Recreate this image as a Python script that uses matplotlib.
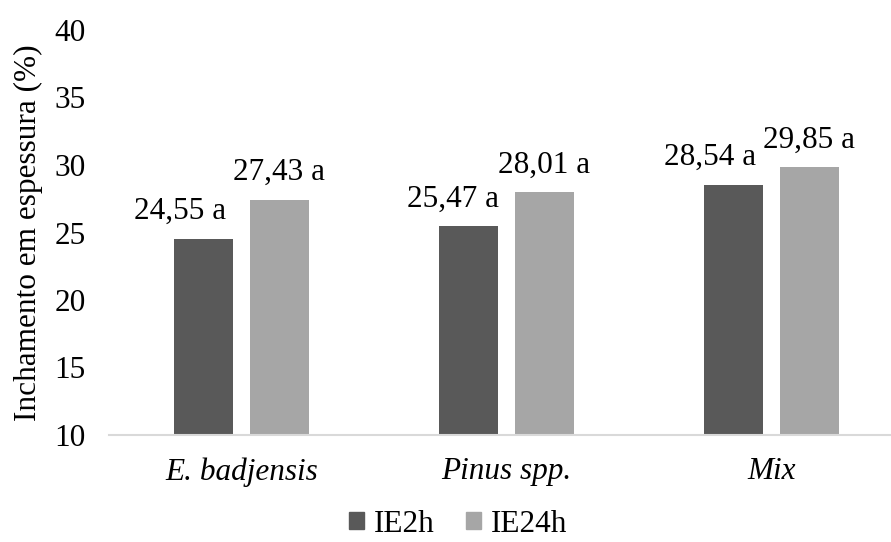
import numpy as np
import matplotlib.pyplot as plt
from matplotlib.patches import Patch

# Dados
categorias = ["E. badjensis", "Pinus spp.", "Mix"]
ie2h = [24.55, 25.47, 28.54]
ie24h = [27.43, 28.01, 29.85]
letras2h = ["a", "a", "a"]
letras24h = ["a", "a", "a"]
yticks = [10, 15, 20, 25, 30, 35, 40]

cor_escura = "#595959"
cor_clara = "#a6a6a6"

plt.rcParams['font.family'] = ['Liberation Serif', 'DejaVu Serif']
fs = 22.5

fig = plt.figure(figsize=(8.91, 5.42), dpi=100)
# o eixo continua um pouco além da borda direita da figura
ax = fig.add_axes([109 / 891, 1 - 435 / 542, 795 / 891, 405 / 542])

x = np.arange(len(categorias))
w = 0.223
off = 0.143
b1 = ax.bar(x - off, ie2h, w, color=cor_escura, bottom=0)
b2 = ax.bar(x + off, ie24h, w, color=cor_clara, bottom=0)

# rótulos das barras (os da série IE2h estão deslocados para a esquerda)
desloc = [-17, -11, -17]
for i, r in enumerate(b1):
    ax.annotate(f"{ie2h[i]:.2f}".replace(".", ",") + " " + letras2h[i],
                (r.get_x() + r.get_width() / 2, r.get_height()),
                xytext=(desloc[i], 14), textcoords="offset points",
                ha="center", va="baseline", fontsize=fs)
for i, r in enumerate(b2):
    ax.annotate(f"{ie24h[i]:.2f}".replace(".", ",") + " " + letras24h[i],
                (r.get_x() + r.get_width() / 2, r.get_height()),
                xytext=(0, 14), textcoords="offset points",
                ha="center", va="baseline", fontsize=fs)

ax.set_ylim(10, 40)
ax.set_xlim(-0.5, 2.5)
ax.set_yticks(yticks)
ax.set_xticks(x)
ax.set_xticklabels(categorias, fontstyle="italic")
ax.tick_params(axis="both", length=0, labelsize=fs)
ax.tick_params(axis="y", pad=17)
ax.tick_params(axis="x", pad=16)
for s in ["top", "right", "left"]:
    ax.spines[s].set_visible(False)
ax.spines["bottom"].set_color("#d9d9d9")
ax.spines["bottom"].set_linewidth(1.5)
ax.set_ylabel("Inchamento em espessura (%)", fontsize=fs, labelpad=8)

handles = [Patch(color=cor_escura, label="IE2h"), Patch(color=cor_clara, label="IE24h")]
fig.legend(handles=handles, loc="center", bbox_to_anchor=(458 / 891, 1 - 524 / 542),
           ncol=2, frameon=False, fontsize=fs, handlelength=0.5, handleheight=0.5,
           handletextpad=0.3, columnspacing=1.0)

fig.savefig("out.png", dpi=100)
